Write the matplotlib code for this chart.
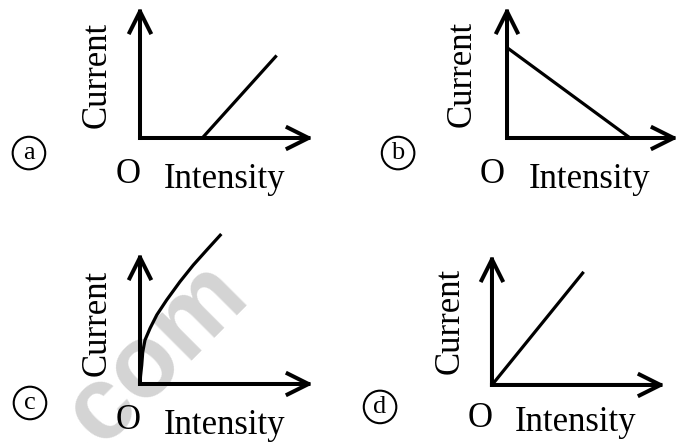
import matplotlib.pyplot as plt

plt.rcParams['font.family'] = ['Liberation Serif', 'DejaVu Serif']

# photocurrent vs light intensity, four candidate graphs
labels = ["a", "b", "c", "d"]

a_intensity = [3.6, 7.9]
a_current = [0.0, 6.3]

b_intensity = [0.0, 7.2]
b_current = [6.9, 0.0]

c_intensity = [0.0, 0.03, 0.10, 0.16, 0.29, 0.58, 0.97, 1.54, 2.31, 3.08, 3.86, 4.70]
c_current = [0.0, 0.60, 1.45, 2.47, 3.36, 4.25, 5.27, 6.41, 7.81, 9.08, 10.23, 11.45]

d_intensity = [0.0, 5.3]
d_current = [0.0, 8.7]

fig = plt.figure(figsize=(6.9, 4.43), dpi=100)

# axes boxes: origin to arrow tips
boxes = [
    [0.2029, 0.6885, 0.2507, 0.2957],
    [0.7348, 0.6885, 0.2478, 0.2957],
    [0.2029, 0.1332, 0.2507, 0.2957],
    [0.7130, 0.1310, 0.2507, 0.2935],
]
series = [(a_intensity, a_current), (b_intensity, b_current),
          (c_intensity, c_current), (d_intensity, d_current)]

# text offsets in axes fraction: (Current x, Current y, O x, O y, Intensity x, Intensity y, tag x, tag y)
offsets = [
    (-0.249, 0.48, -0.069, -0.282, 0.486, -0.32, -0.642, -0.115),
    (-0.263, 0.49, -0.088, -0.282, 0.48, -0.32, -0.637, -0.115),
    (-0.249, 0.466, -0.069, -0.282, 0.49, -0.32, -0.636, -0.145),
    (-0.243, 0.49, -0.069, -0.26, 0.486, -0.29, -0.647, -0.169),
]

arrow = dict(arrowstyle='->, head_length=0.6, head_width=0.3',
             lw=2.9, color='black', shrinkA=0, shrinkB=0,
             mutation_scale=25, capstyle='projecting')

for box, (x, y), off, tag in zip(boxes, series, offsets, labels):
    ax = fig.add_axes(box)
    ax.set_xlim(0, 10)
    ax.set_ylim(0, 10)
    ax.axis('off')
    ax.plot(x, y, color='black', lw=2.3, clip_on=False,
            solid_capstyle='butt', solid_joinstyle='round')

    ax.annotate('', xy=(1, 0), xytext=(0, 0), xycoords='axes fraction',
                arrowprops=arrow)
    ax.annotate('', xy=(0, 1), xytext=(0, 0), xycoords='axes fraction',
                arrowprops=arrow)

    cx, cy, ox, oy, ix, iy, tx, ty = off
    ax.text(cx, cy, 'Current', transform=ax.transAxes, rotation=90,
            ha='center', va='center', fontsize=25)
    ax.text(ox, oy, 'O', transform=ax.transAxes, ha='center', va='center',
            fontsize=25)
    ax.text(ix, iy, 'Intensity', transform=ax.transAxes, ha='center',
            va='center', fontsize=25)
    ax.text(tx, ty, tag, transform=ax.transAxes, ha='center', va='center',
            fontsize=19,
            bbox=dict(boxstyle='circle,pad=0.2', fc='none', ec='black', lw=1.5))

# faint site mark behind the lower-left graph
fig.text(0.2116, 0.183, '.com', rotation=45, ha='center', va='center',
         fontsize=74, fontweight='bold', family='Liberation Sans',
         color='#d4d4d4', zorder=-1)

fig.savefig('out.png', dpi=100)
